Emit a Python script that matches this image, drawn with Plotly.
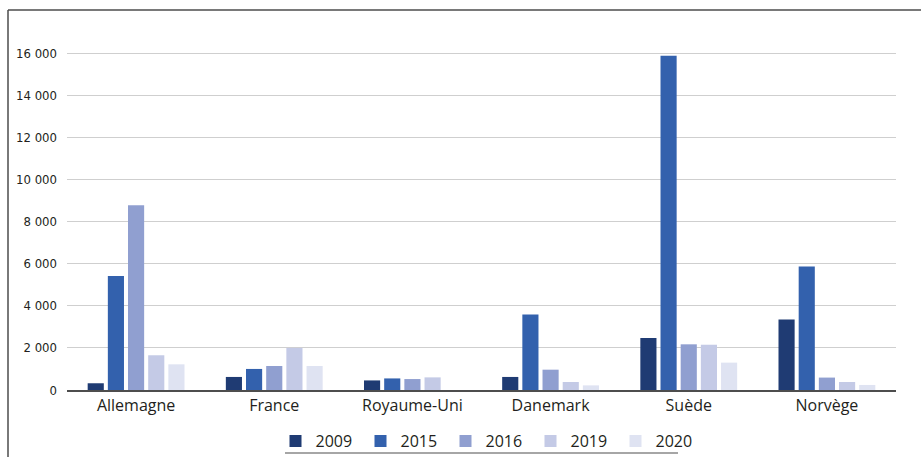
import plotly.graph_objects as go

categories = ["Allemagne", "France", "Royaume-Uni", "Danemark", "Suède", "Norvège"]
years = ["2009", "2015", "2016", "2019", "2020"]
v2009 = [320, 620, 455, 620, 2470, 3350]
v2015 = [5410, 1000, 550, 3590, 15880, 5870]
v2016 = [8780, 1140, 520, 965, 2170, 590]
v2019 = [1650, 2000, 600, 380, 2150, 380]
v2020 = [1220, 1140, None, 220, 1300, 240]
series = [v2009, v2015, v2016, v2019, v2020]
colors = ["#1F3B73", "#3361AD", "#909FD0", "#C4CAE6", "#DFE3F2"]
tickvals = [0, 2000, 4000, 6000, 8000, 10000, 12000, 14000, 16000]
ticktext = ["0", "2 000", "4 000", "6 000", "8 000", "10 000", "12 000", "14 000", "16 000"]

fig = go.Figure()
for name, vals, col in zip(years, series, colors):
    fig.add_trace(go.Bar(x=categories, y=vals, name=name,
                         marker=dict(color=col, line=dict(width=0))))

W, H = 921, 457
L, R, T, B = 67, 25, 11, 67
pw, ph = W - L - R, H - T - B

def px(x):
    return (x - L) / pw

def py(y):
    return (H - B - y) / ph

fig.update_layout(
    width=W, height=H,
    margin=dict(l=L, r=R, t=T, b=B, pad=0, autoexpand=False),
    paper_bgcolor="white", plot_bgcolor="white",
    barmode="group", bargap=0.27, bargroupgap=0.2,
    font=dict(family="Open Sans, Noto Sans, sans-serif", color="#231F20"),
    xaxis=dict(showline=True, linecolor="#4D4D4D", linewidth=1.5,
               ticks="", tickfont=dict(size=16, color="#231F20"),
               showgrid=False, fixedrange=True),
    yaxis=dict(range=[0, 18000], tickvals=tickvals, ticktext=ticktext,
               showgrid=True, gridcolor="#CFCFCF", gridwidth=1,
               zeroline=False, showline=False, ticks="",
               ticklabelstandoff=9,
               tickfont=dict(size=13, family="Liberation Sans Narrow, DejaVu Sans Condensed, sans-serif",
                             color="#231F20")),
    legend=dict(orientation="h", x=px(488), xanchor="center",
                y=py(441), yanchor="middle", bgcolor="rgba(0,0,0,0)",
                font=dict(size=16, color="#231F20"),
                itemwidth=30, entrywidth=40, traceorder="normal"),
    showlegend=True,
    shapes=[
        dict(type="line", xref="paper", yref="paper",
             x0=px(8), x1=px(8), y0=py(457), y1=py(10),
             line=dict(color="#4D4D4D", width=1.5)),
        dict(type="line", xref="paper", yref="paper",
             x0=px(8), x1=px(921), y0=py(10), y1=py(10),
             line=dict(color="#4D4D4D", width=1.5)),
        dict(type="line", xref="paper", yref="paper",
             x0=px(285), x1=px(678), y0=py(453), y1=py(453),
             line=dict(color="#A6A6A6", width=2)),
    ],
)

fig.write_html("out.html")
